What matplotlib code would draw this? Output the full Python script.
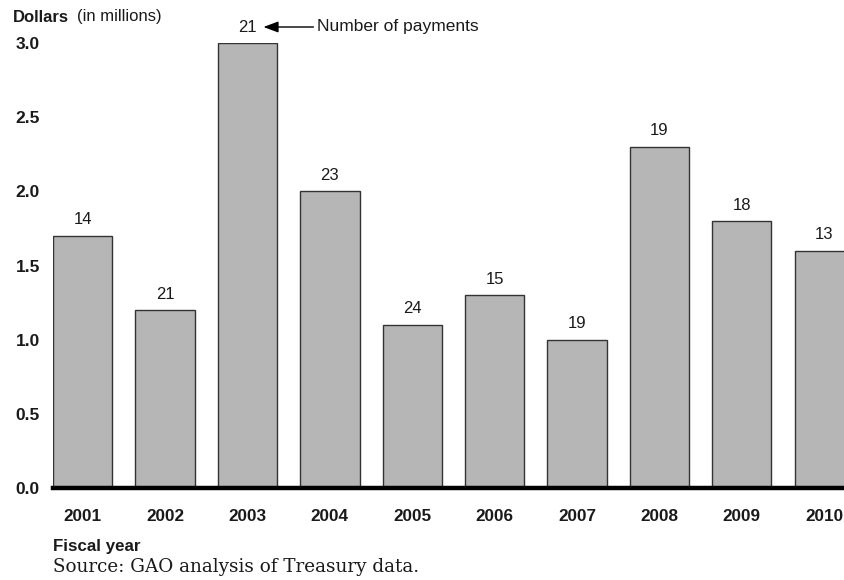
import matplotlib.pyplot as plt
import numpy as np

# fiscal years, dollar amounts (millions) and payment counts per year
years = ["2001", "2002", "2003", "2004", "2005", "2006", "2007", "2008", "2009", "2010"]
dollars = [1.7, 1.2, 3.0, 2.0, 1.1, 1.3, 1.0, 2.3, 1.8, 1.6]
payments = [14, 21, 21, 23, 24, 15, 19, 19, 18, 13]
y_ticks = [0.0, 0.5, 1.0, 1.5, 2.0, 2.5, 3.0]

plt.rcParams['font.family'] = ['Liberation Sans', 'DejaVu Sans']
TXT = "#1a1a1a"

fig = plt.figure(figsize=(8.44, 5.8), dpi=100)
ax = fig.add_axes([53 / 844, 92 / 580, 1 - 53 / 844, 445 / 580])

x = np.arange(len(years))
ax.bar(x, dollars, width=0.72, color="#b6b6b6", edgecolor="#333333",
       linewidth=1.0, zorder=2)

# payment counts above each bar
for xi, val, n in zip(x, dollars, payments):
    ax.annotate(str(n), (xi, val), xytext=(0, 11.5), textcoords="offset points",
                ha="center", va="center", fontsize=12, color=TXT,
                annotation_clip=False)

# call-out next to the 2003 count
lab_y = 3.0 + 16 / 148.3
ax.annotate("", xy=(2 + 16 / 82.4, lab_y), xytext=(2 + 66 / 82.4, lab_y),
            arrowprops=dict(arrowstyle="-|>,head_length=0.75,head_width=0.28",
                            color="black", lw=1.0, mutation_scale=12,
                            shrinkA=0, shrinkB=0),
            annotation_clip=False)
ax.text(2 + 70 / 82.4, lab_y, "Number of payments", fontsize=12.5, color=TXT,
        va="center", ha="left", clip_on=False)

ax.set_xlim(-0.36, 9.24)
ax.set_ylim(0, 3.0)
ax.set_xticks(x)
ax.set_xticklabels(years, fontsize=12.3, fontweight="bold", color=TXT)
ax.set_yticks(y_ticks)
ax.set_yticklabels(["%.1f" % t for t in y_ticks], fontsize=12.5,
                   fontweight="bold", color=TXT)
ax.tick_params(axis="both", length=0)
ax.tick_params(axis="y", pad=9.5)
ax.tick_params(axis="x", pad=15)

for s in ax.spines.values():
    s.set_visible(False)
ax.axhline(0, color="black", lw=3.2, zorder=3, clip_on=False)

# axis titles and source note
fig.text(13 / 844, 1 - 17 / 580, "Dollars", fontsize=12, fontweight="bold",
         va="center", ha="left", color=TXT)
fig.text(77 / 844, 1 - 17 / 580, "(in millions)", fontsize=12,
         va="center", ha="left", color=TXT)
fig.text(53 / 844, 1 - 547 / 580, "Fiscal year", fontsize=12.2, fontweight="bold",
         va="center", ha="left", color=TXT)
fig.text(53 / 844, 1 - 567 / 580, "Source: GAO analysis of Treasury data.",
         fontsize=13.2, family=["DejaVu Serif"],
         va="center", ha="left", color=TXT)

fig.savefig("out.png", dpi=100)
